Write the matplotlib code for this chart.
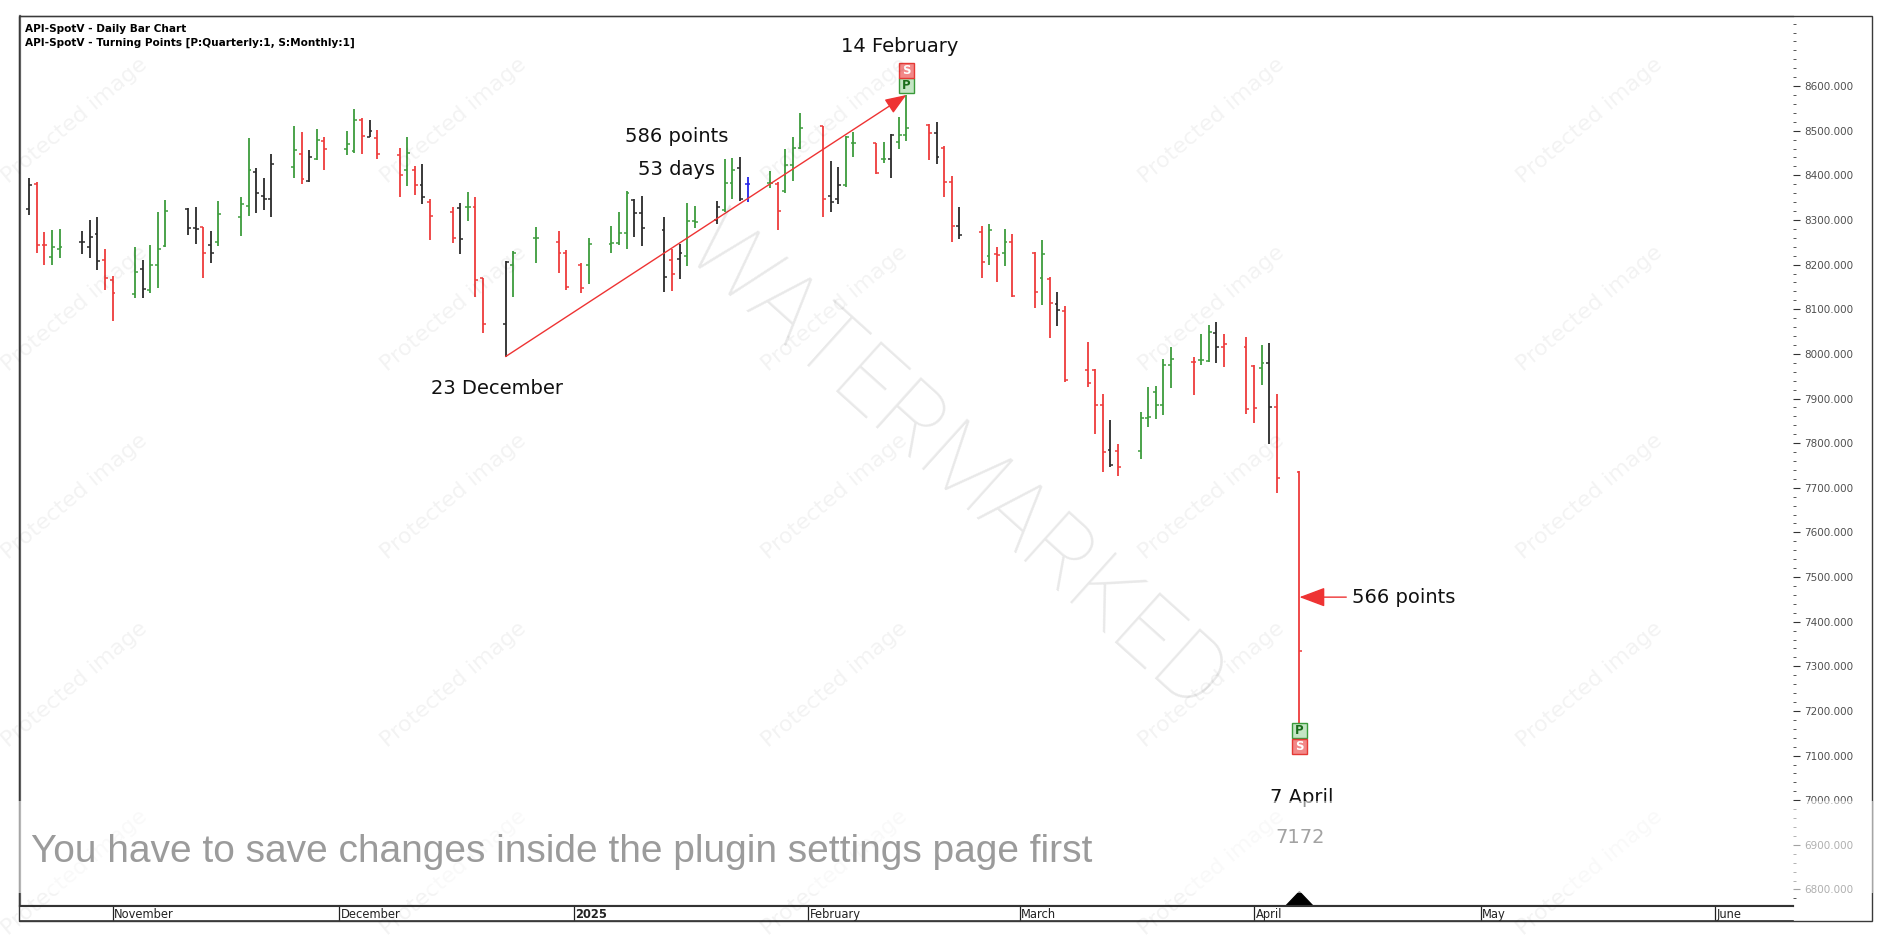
import matplotlib
matplotlib.use("Agg")
import matplotlib.pyplot as plt
import matplotlib.dates as mdates
import matplotlib.ticker as mticker
from matplotlib.patches import Rectangle, Polygon
import pandas as pd

# Barras diarias API-SpotV
fechas = [
    "2024-10-21", "2024-10-22", "2024-10-23", "2024-10-24", "2024-10-25",
    "2024-10-28", "2024-10-29", "2024-10-30", "2024-10-31", "2024-11-01",
    "2024-11-04", "2024-11-05", "2024-11-06", "2024-11-07", "2024-11-08",
    "2024-11-11", "2024-11-12", "2024-11-13", "2024-11-14", "2024-11-15",
    "2024-11-18", "2024-11-19", "2024-11-20", "2024-11-21", "2024-11-22",
    "2024-11-25", "2024-11-26", "2024-11-27", "2024-11-28", "2024-11-29",
    "2024-12-02", "2024-12-03", "2024-12-04", "2024-12-05", "2024-12-06",
    "2024-12-09", "2024-12-10", "2024-12-11", "2024-12-12", "2024-12-13",
    "2024-12-16", "2024-12-17", "2024-12-18", "2024-12-19", "2024-12-20",
    "2024-12-23", "2024-12-24", "2024-12-27", "2024-12-30", "2024-12-31",
    "2025-01-02", "2025-01-03", "2025-01-06", "2025-01-07", "2025-01-08",
    "2025-01-09", "2025-01-10", "2025-01-13", "2025-01-14", "2025-01-15",
    "2025-01-16", "2025-01-17", "2025-01-20", "2025-01-21", "2025-01-22",
    "2025-01-23", "2025-01-24", "2025-01-27", "2025-01-28", "2025-01-29",
    "2025-01-30", "2025-01-31", "2025-02-03", "2025-02-04", "2025-02-05",
    "2025-02-06", "2025-02-07", "2025-02-10", "2025-02-11", "2025-02-12",
    "2025-02-13", "2025-02-14", "2025-02-17", "2025-02-18", "2025-02-19",
    "2025-02-20", "2025-02-21", "2025-02-24", "2025-02-25", "2025-02-26",
    "2025-02-27", "2025-02-28", "2025-03-03", "2025-03-04", "2025-03-05",
    "2025-03-06", "2025-03-07", "2025-03-10", "2025-03-11", "2025-03-12",
    "2025-03-13", "2025-03-14", "2025-03-17", "2025-03-18", "2025-03-19",
    "2025-03-20", "2025-03-21", "2025-03-24", "2025-03-25", "2025-03-26",
    "2025-03-27", "2025-03-28", "2025-03-31", "2025-04-01", "2025-04-02",
    "2025-04-03", "2025-04-04", "2025-04-07",
]
aperturas = [
    8324, 8380, 8245, 8218, 8235, 8250, 8240, 8268, 8210, 8166,
    8134, 8190, 8143, 8199, 8242, 8324, 8283, 8284, 8245, 8250,
    8307, 8331, 8408, 8354, 8346, 8419, 8448, 8388, 8436, 8478,
    8460, 8455, 8525, 8486, 8484, 8445, 8412, 8412, 8378, 8340,
    8318, 8326, 8328, 8330, 8170, 8067, 8200, 8259, 8251, 8225,
    8199, 8200, 8246, 8249, 8271, 8345, 8315, 8277, 8210, 8213,
    8220, 8298, 8300, 8323, 8382, 8416, 8380, 8382, 8380, 8365,
    8423, 8461, 8510, 8354, 8348, 8378, 8472, 8472, 8436, 8436,
    8475, 8490, 8512, 8494, 8462, 8386, 8287, 8274, 8220, 8223,
    8227, 8250, 8227, 8169, 8168, 8112, 8096, 7965, 7965, 7885,
    7784, 7782, 7782, 7856, 7914, 7885, 7976, 7982, 7986, 7985,
    8047, 8016, 8016, 7973, 7969, 7980, 7880, 7736,
]
maximos = [
    8394, 8386, 8272, 8277, 8280, 8275, 8301, 8306, 8235, 8175,
    8239, 8210, 8244, 8318, 8345, 8326, 8330, 8285, 8275, 8342,
    8352, 8484, 8416, 8393, 8448, 8510, 8496, 8457, 8503, 8486,
    8499, 8548, 8528, 8525, 8501, 8462, 8486, 8421, 8425, 8346,
    8328, 8339, 8363, 8351, 8171, 8208, 8230, 8285, 8275, 8233,
    8203, 8259, 8287, 8318, 8365, 8348, 8354, 8307, 8236, 8246,
    8337, 8332, 8343, 8436, 8438, 8440, 8397, 8410, 8386, 8458,
    8486, 8540, 8511, 8433, 8418, 8488, 8496, 8473, 8475, 8492,
    8531, 8580, 8516, 8520, 8466, 8399, 8330, 8287, 8291, 8240,
    8279, 8268, 8229, 8255, 8173, 8139, 8107, 8026, 7967, 7910,
    7852, 7798, 7870, 7926, 7929, 7988, 8016, 7992, 8044, 8064,
    8072, 8044, 8038, 7975, 8021, 8024, 7910, 7738,
]
minimos = [
    8311, 8227, 8200, 8200, 8214, 8224, 8214, 8188, 8142, 8074,
    8126, 8126, 8136, 8147, 8239, 8266, 8246, 8169, 8203, 8242,
    8265, 8309, 8315, 8322, 8307, 8395, 8380, 8385, 8434, 8412,
    8445, 8450, 8447, 8485, 8436, 8352, 8376, 8356, 8335, 8255,
    8248, 8224, 8298, 8128, 8046, 7994, 8127, 8203, 8182, 8144,
    8136, 8156, 8225, 8244, 8236, 8262, 8242, 8139, 8141, 8168,
    8197, 8281, 8291, 8318, 8348, 8343, 8341, 8371, 8277, 8360,
    8388, 8458, 8306, 8318, 8336, 8373, 8442, 8404, 8427, 8393,
    8459, 8477, 8434, 8425, 8352, 8251, 8257, 8169, 8199, 8160,
    8197, 8128, 8102, 8109, 8035, 8062, 7937, 7926, 7820, 7736,
    7747, 7727, 7764, 7837, 7853, 7863, 7924, 7908, 7975, 7982,
    7979, 7971, 7865, 7846, 7930, 7799, 7689, 7172,
]
cierres = [
    8378, 8245, 8245, 8240, 8240, 8250, 8262, 8209, 8169, 8137,
    8184, 8146, 8199, 8235, 8320, 8281, 8280, 8227, 8225, 8314,
    8335, 8412, 8361, 8348, 8425, 8457, 8391, 8440, 8479, 8460,
    8470, 8525, 8488, 8500, 8447, 8400, 8450, 8378, 8351, 8309,
    8259, 8257, 8330, 8165, 8067, 8205, 8225, 8259, 8225, 8149,
    8147, 8246, 8249, 8271, 8361, 8315, 8283, 8173, 8180, 8226,
    8298, 8295, 8328, 8382, 8413, 8348, 8380, 8382, 8320, 8423,
    8461, 8507, 8348, 8341, 8378, 8485, 8472, 8406, 8436, 8490,
    8490, 8507, 8494, 8442, 8386, 8287, 8266, 8205, 8277, 8221,
    8250, 8130, 8139, 8223, 8113, 8098, 7941, 7935, 7885, 7781,
    7751, 7746, 7857, 7858, 7885, 7976, 7988, 7982, 7986, 8050,
    8016, 8022, 7876, 7878, 7980, 7881, 7721, 7334,
]
# g = verde, r = rojo, k = negro, b = azul
tipo_barra = list(
    "krrggkkkrr" "gkgggkkrkg" "ggkkkgrkgr" "ggrkrrgrkr"
    "rkgrrkggrr" "rggggkkkrk" "ggkggkbgrg" "ggrkkggrgk"
    "ggrkrrkrgr" "grrgrkrrrr" "krgggggrgg" "krrrgkrr"
)

meses = ["2024-11-01", "2024-12-01", "2025-01-01", "2025-02-01",
         "2025-03-01", "2025-04-01", "2025-05-01", "2025-06-01"]
nombres_meses = ["November", "December", "2025", "February",
                 "March", "April", "May", "June"]

precios_eje = list(range(6800, 8601, 100))

fecha_minimo = "2024-12-23"
fecha_maximo = "2025-02-14"
fecha_caida = "2025-04-07"

colores = {"g": "#3d9c3d", "r": "#ee3b3b", "k": "#2a2a2a", "b": "#2323e8"}

W, H = 1900, 950
def fx(px):
    return px / W
def fy(py):
    return 1 - py / H

xs = mdates.date2num(pd.to_datetime(fechas).to_pydatetime())
cols = [colores[c] for c in tipo_barra]

fig = plt.figure(figsize=(19, 9.5), dpi=100)
ax = fig.add_axes([fx(20), fy(906), fx(1793) - fx(20), fy(16) - fy(906)])

x_ini = mdates.date2num(pd.Timestamp("2024-10-19 18:15"))
x_fin = mdates.date2num(pd.Timestamp("2025-06-11 07:00"))
ax.set_xlim(x_ini, x_fin)
ax.set_ylim(6763, 8757)

# Barras OHLC
ax.vlines(xs, minimos, maximos, colors=cols, lw=1.3, zorder=3)
ax.hlines(aperturas, xs - 0.38, xs, colors=cols, lw=1.1, zorder=3)
ax.hlines(cierres, xs, xs + 0.38, colors=cols, lw=1.1, zorder=3)

# Eje de precios a la derecha
ax.yaxis.tick_right()
ax.set_yticks(precios_eje)
ax.yaxis.set_minor_locator(mticker.FixedLocator(range(6780, 8741, 20)))
ax.yaxis.set_major_formatter(mticker.FormatStrFormatter("%.3f"))
ax.tick_params(axis="y", which="major", length=5, width=0.8, color="#333333",
               labelsize=7.5, labelcolor="#505050", pad=3)
ax.tick_params(axis="y", which="minor", length=2.5, width=0.7, color="#555555")
ax.set_xticks([])
ax.spines["right"].set_visible(False)
ax.spines["left"].set_color("#6a6a6a")
ax.spines["left"].set_linewidth(1.6)
ax.spines["top"].set_color("#333333")
ax.spines["top"].set_linewidth(0.9)
ax.spines["bottom"].set_color("#333333")
ax.spines["bottom"].set_linewidth(1.5)

# Indices de los puntos de giro
i_min = fechas.index(fecha_minimo)
i_max = fechas.index(fecha_maximo)
i_caida = fechas.index(fecha_caida)
x_min, y_min = xs[i_min], minimos[i_min]
x_max, y_max = xs[i_max], maximos[i_max]
x_caida = xs[i_caida]
alto_caida, bajo_caida = maximos[i_caida], minimos[i_caida]

rojo_linea = "#ee3333"
texto_col = "#111111"

# Linea de tendencia con flecha
ax.annotate("", xy=(x_max, y_max), xytext=(x_min, y_min),
            arrowprops=dict(arrowstyle="-|>,head_length=0.65,head_width=0.25",
                            color=rojo_linea, lw=1.0, mutation_scale=20,
                            shrinkA=0, shrinkB=0), zorder=4)

puntos_subida = round(y_max - y_min)
dias_subida = (pd.Timestamp(fecha_maximo) - pd.Timestamp(fecha_minimo)).days
x_txt = mdates.date2num(pd.Timestamp("2025-01-14 16:00"))
ax.text(x_txt, 8486, f"{puntos_subida} points", ha="center", va="center",
        fontsize=14, color=texto_col, zorder=5)
ax.text(x_txt, 8412, f"{dias_subida} days", ha="center", va="center",
        fontsize=14, color=texto_col, zorder=5)

ax.annotate("23 December", xy=(x_min, y_min), xytext=(-9, -32),
            textcoords="offset pixels", ha="center", va="center",
            fontsize=14, color=texto_col)
ax.annotate("14 February", xy=(x_max, y_max), xytext=(-7, 49),
            textcoords="offset pixels", ha="center", va="center",
            fontsize=14, color=texto_col)
ax.annotate("7 April", xy=(x_caida, bajo_caida), xytext=(2, -74),
            textcoords="offset pixels", ha="center", va="center",
            fontsize=14, color=texto_col)
ax.annotate(f"{bajo_caida}", xy=(x_caida, bajo_caida), xytext=(1, -114),
            textcoords="offset pixels", ha="center", va="center",
            fontsize=14, color="#333333")

# Flecha de la caida
medio = (alto_caida + bajo_caida) / 2
puntos_caida = round(alto_caida - bajo_caida)
ax.annotate("", xy=(x_caida, medio), xytext=(x_caida + 6.2, medio),
            arrowprops=dict(arrowstyle="-|>,head_length=0.8,head_width=0.3",
                            color=rojo_linea, lw=1.0, mutation_scale=20,
                            shrinkA=0, shrinkB=0), zorder=4)
ax.annotate(f"{puntos_caida} points", xy=(x_caida + 6.2, medio), xytext=(6, 0),
            textcoords="offset pixels", ha="left", va="center",
            fontsize=14, color=texto_col)

# Cajas P / S de puntos de giro
def caja(xc, ybase, letra):
    ancho, alto = 2.05, 33
    if letra == "P":
        cara, borde, tc = "#c4e5c4", "#3a9a3a", "#1b6e1b"
    else:
        cara, borde, tc = "#f28888", "#e53935", "white"
    ax.add_patch(Rectangle((xc - ancho / 2, ybase), ancho, alto, facecolor=cara,
                           edgecolor=borde, lw=1.0, zorder=5))
    ax.text(xc, ybase + alto / 2, letra, ha="center", va="center", fontsize=8.5,
            fontweight="bold", color=tc, zorder=6)

caja(x_max, y_max + 4, "P")
caja(x_max, y_max + 39, "S")
caja(x_caida, bajo_caida - 33, "P")
caja(x_caida, bajo_caida - 68, "S")

# Triangulo en la base
ax.add_patch(Polygon([(x_caida - 1.8, 0.0), (x_caida + 1.8, 0.0), (x_caida, 0.016)],
                     closed=True, transform=ax.get_xaxis_transform(),
                     facecolor="black", edgecolor="black", zorder=6, clip_on=False))

# Franja de meses
sx = fig.add_axes([fx(20), fy(921), fx(1793) - fx(20), fy(906) - fy(921)])
sx.set_xlim(x_ini, x_fin)
sx.set_ylim(0, 1)
sx.set_xticks([])
sx.set_yticks([])
for lado in ["left", "right"]:
    sx.spines[lado].set_visible(False)
sx.spines["top"].set_linewidth(1.5)
sx.spines["top"].set_color("#333333")
sx.spines["bottom"].set_linewidth(1.2)
sx.spines["bottom"].set_color("#333333")
xm = mdates.date2num(pd.to_datetime(meses).to_pydatetime())
sx.vlines(xm, 0, 1, color="#222222", lw=0.9)
for m, nombre in zip(xm, nombres_meses):
    sx.text(m + 0.2, 0.45, nombre, ha="left", va="center", fontsize=8.3,
            color="#222222", fontweight="bold" if nombre == "2025" else "normal",
            family="Liberation Sans Narrow" if False else "DejaVu Sans")

# Marco exterior
fig.add_artist(Rectangle((fx(19), fy(921)), fx(1872) - fx(19), fy(16) - fy(921),
                         transform=fig.transFigure, fill=False,
                         edgecolor="#3a3a3a", lw=1.0, zorder=3))

# Encabezado
fig.text(fx(25), fy(29), "API-SpotV - Daily Bar Chart", fontsize=7.6,
         fontweight="bold", va="center", ha="left")
fig.text(fx(25), fy(43), "API-SpotV - Turning Points [P:Quarterly:1, S:Monthly:1]",
         fontsize=7.6, fontweight="bold", va="center", ha="left")

# Marcas de agua
for cx in [75, 454, 835, 1212, 1590]:
    for cy in [121, 309, 497, 685, 873]:
        fig.text(fx(cx), fy(cy), "Protected image", rotation=40, fontsize=16,
                 color="black", alpha=0.05, ha="center", va="center",
                 rotation_mode="anchor", zorder=8)
fig.text(fx(954), fy(466), "WATERMARKED", rotation=-42, fontsize=68,
         color="black", alpha=0.09, ha="center", va="center",
         rotation_mode="anchor", family=["Roboto", "DejaVu Sans"],
         fontweight="light", zorder=8)

# Aviso semitransparente inferior
fig.add_artist(Rectangle((fx(18), fy(893)), fx(1873) - fx(18), fy(801) - fy(893),
                         transform=fig.transFigure, facecolor="white",
                         edgecolor="none", alpha=0.55, zorder=10))
fig.text(fx(31), fy(852), "You have to save changes inside the plugin settings page first",
         fontsize=28, color="#9b9b9b", va="center", ha="left",
         family=["Liberation Sans", "DejaVu Sans"], zorder=11)

fig.savefig("out.png", dpi=100)
